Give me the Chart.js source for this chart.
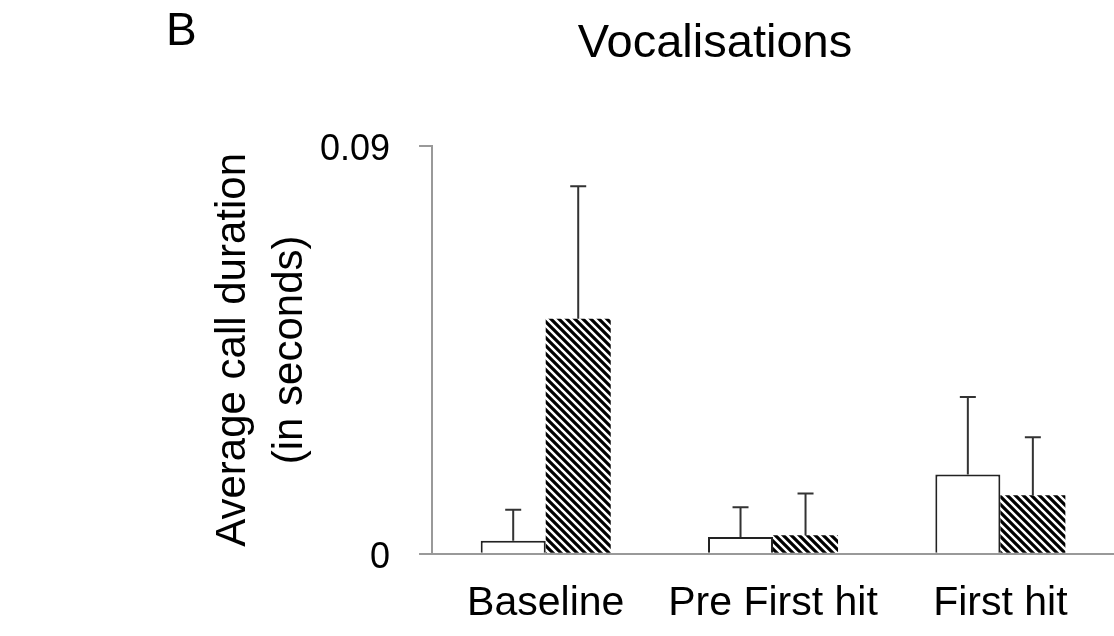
<!DOCTYPE html>
<html>
<head>
<meta charset="utf-8">
<script src="https://cdn.jsdelivr.net/npm/chart.js@4"></script>
<style>
  html, body { margin: 0; padding: 0; background: #fff; }
  #wrap { width: 1114px; height: 636px; }
</style>
</head>
<body>
<div id="wrap"><canvas id="myChart" width="1114" height="636"></canvas></div>
<script>
var groups = ['Baseline', 'Pre First hit', 'First hit'];
var plainMeans = [0.0029, 0.0037, 0.0175];
var plainErrors = [0.0068, 0.0066, 0.0171];
var hatchMeans = [0.0519, 0.0041, 0.0129];
var hatchErrors = [0.0292, 0.0092, 0.0128];
var yTicks = [0, 0.09];

var fontName = '"Liberation Sans", Arial, sans-serif';

// diagonal stripes for the second series
function makeHatch() {
  var p = 8;
  var c = document.createElement('canvas');
  c.width = p;
  c.height = p;
  var g = c.getContext('2d');
  g.fillStyle = '#fff';
  g.fillRect(0, 0, p, p);
  g.strokeStyle = '#000';
  g.lineWidth = 3.2;
  g.beginPath();
  g.moveTo(-1, -1); g.lineTo(p + 1, p + 1);
  g.moveTo(p - 2, -2); g.lineTo(p + 2, 2);
  g.moveTo(-2, p - 2); g.lineTo(2, p + 2);
  g.stroke();
  return g.createPattern(c, 'repeat');
}

var ctx = document.getElementById('myChart').getContext('2d');
var hatch = makeHatch();

var errorBars = {
  id: 'errorBars',
  afterDatasetsDraw: function(chart) {
    var c = chart.ctx;
    var y = chart.scales.y;
    var errs = [plainErrors, hatchErrors];
    c.save();
    c.strokeStyle = '#333';
    c.lineWidth = 2;
    chart.data.datasets.forEach(function(ds, i) {
      chart.getDatasetMeta(i).data.forEach(function(bar, j) {
        var top = y.getPixelForValue(ds.data[j] + errs[i][j]);
        c.beginPath();
        c.moveTo(bar.x, bar.y);
        c.lineTo(bar.x, top);
        c.moveTo(bar.x - 8, top);
        c.lineTo(bar.x + 8, top);
        c.stroke();
      });
    });
    c.restore();
  }
};

var headings = {
  id: 'headings',
  afterDraw: function(chart) {
    var c = chart.ctx;
    c.save();
    c.fillStyle = '#000';
    c.textBaseline = 'alphabetic';
    c.font = '46px ' + fontName;
    c.textAlign = 'left';
    c.fillText('B', 166, 45);
    c.font = '47px ' + fontName;
    c.textAlign = 'center';
    c.fillText('Vocalisations', 715, 57);
    c.restore();
  }
};

new Chart(ctx, {
  type: 'bar',
  data: {
    labels: groups,
    datasets: [{
      label: 'Series 1',
      data: plainMeans,
      backgroundColor: '#fff',
      borderColor: '#222',
      borderWidth: 2
    }, {
      label: 'Series 2',
      data: hatchMeans,
      backgroundColor: hatch,
      borderWidth: 0
    }]
  },
  options: {
    responsive: false,
    animation: false,
    categoryPercentage: 0.572,
    barPercentage: 1.0,
    layout: {
      padding: { left: 0, top: 146, right: 0, bottom: -17 }
    },
    plugins: {
      legend: { display: false },
      tooltip: { enabled: false }
    },
    scales: {
      x: {
        grid: { display: false, drawTicks: false },
        border: { display: true, color: '#999', width: 2 },
        ticks: {
          color: '#000',
          padding: 25,
          maxRotation: 0,
          autoSkip: false,
          font: { family: fontName, size: 41 }
        }
      },
      y: {
        min: 0,
        max: 0.09,
        afterBuildTicks: function(scale) {
          scale.ticks = yTicks.map(function(v) { return { value: v }; });
        },
        grid: {
          drawOnChartArea: false,
          drawTicks: true,
          tickLength: 13,
          color: '#999',
          lineWidth: 2
        },
        border: { display: true, color: '#999', width: 2 },
        ticks: {
          color: '#000',
          padding: 29,
          labelOffset: 4,
          font: { family: fontName, size: 36 },
          callback: function(v) { return v === 0 ? '0' : String(v); }
        },
        title: {
          display: true,
          text: ['Average call duration', '(in seconds)'],
          color: '#000',
          font: { family: fontName, size: 42, lineHeight: 1.357 },
          padding: { top: 205, bottom: -28 }
        }
      }
    }
  },
  plugins: [errorBars, headings]
});
</script>
</body>
</html>
